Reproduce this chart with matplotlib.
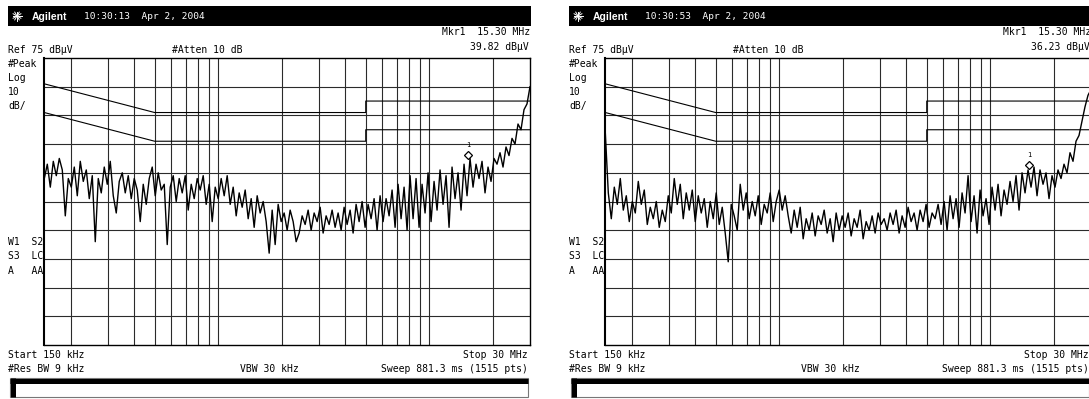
import numpy as np
import matplotlib.pyplot as plt
from matplotlib import transforms
from matplotlib.patches import Rectangle

W, H = 1089, 399

# sweep / display settings
START_HZ = 150e3
STOP_HZ = 30e6
REF_LEVEL = 75
DB_PER_DIV = 10

GRID_FREQS = [200e3, 300e3, 400e3, 500e3, 600e3, 700e3, 800e3, 900e3, 1e6,
              2e6, 3e6, 4e6, 5e6, 6e6, 7e6, 8e6, 9e6, 10e6, 20e6]

# limit lines (dBuV)
LIMIT_FREQS = [150e3, 500e3, 5e6, 5e6, 30e6]
QP_LIMIT = [66, 56, 56, 60, 60]
AV_LIMIT = [56, 46, 46, 50, 50]

TIMES = ["10:30:13", "10:30:53"]
MKR_FREQ = 15.30e6
MKR_LEVEL = [39.82, 36.23]
MKR_TEXT = ["39.82 dBµV", "36.23 dBµV"]

# traces (dBuV, log-spaced sweep points)
trace_a = [33, 38, 30, 39, 34, 40,
           36, 20, 33,
           30, 37, 27, 39,
           32, 36, 26, 34,
           11,
           33, 28, 37, 31, 39,
           27, 21, 32,
           35, 28, 34, 26, 33,
           29, 18, 31, 24, 33,
           37, 27, 35, 29, 31,
           10,
           30, 34, 25, 33, 28, 34, 22, 31, 26, 33,
           29, 34, 24, 31, 18, 30, 26, 33, 27, 34,
           24, 30, 20, 28, 23, 29,
           19, 26, 16, 27, 21, 25, 18, 7,
           22, 10, 24, 18, 21,
           15, 22, 18, 11, 14, 20,
           17, 22, 15, 21, 18, 23, 14, 20, 17, 22, 16,
           21, 15, 23, 17, 22, 14, 24,
           18, 25, 16, 24, 19, 26, 15,
           27, 18, 26, 20, 29,
           16, 31, 19, 30, 15,
           34, 19, 33, 16, 31, 21, 35, 18, 32, 22,
           36, 24, 34, 16, 37, 26, 35,
           22, 38, 27,
           40, 30, 38, 33, 39, 28, 37, 32, 40,
           38, 42, 37, 44, 41, 47, 45, 52, 50, 57, 59, 65]

trace_b = [49, 28,
           19, 30, 24, 33,
           22, 27, 18, 25, 21,
           32, 24, 29,
           17, 23, 19, 25, 16, 22, 18,
           27, 21, 33, 24, 31, 19, 28,
           22, 29, 18, 27, 21,
           26, 16, 25, 19, 28,
           17, 23, 14, 4, 24, 20, 15,
           31, 22, 28, 19, 25,
           20, 27, 17, 24, 21, 28, 18, 25,
           29, 22, 27,
           20, 14, 22, 16, 23, 12, 19, 15, 21, 13, 20, 17, 22, 14, 19, 11, 21, 15, 20, 16,
           21, 13, 19, 16, 22, 12, 18, 15, 20, 14, 21, 17, 19,
           15, 21, 17, 22, 14, 20, 16, 23, 18, 21,
           15, 22, 18, 24, 16, 21, 19,
           24, 17, 25, 15, 27, 19, 26,
           16, 28, 21, 34, 18,
           27, 14, 29, 20, 26, 17,
           30, 22, 31, 20, 29, 24, 32,
           25, 34, 22, 35, 28, 36,
           30, 37, 27, 36, 31, 35, 26, 34,
           30, 36, 33,
           38, 35, 42, 39, 46,
           48, 53, 58, 62, 64]

TRACES = [trace_a, trace_b]
PANEL_DX = [0, 561]

MONO = "DejaVu Sans Mono"

fig = plt.figure(figsize=(W / 100, H / 100), dpi=100)
fig.patch.set_facecolor("white")

# overlay in pixel coordinates for the instrument annotations
ov = fig.add_axes([0, 0, 1, 1])
ov.set_xlim(0, W)
ov.set_ylim(H, 0)
ov.axis("off")


def px_axes(x0, y0, x1, y1):
    return fig.add_axes([x0 / W, 1 - y1 / H, (x1 - x0) / W, (y1 - y0) / H])


def label(x, y, s, ha="left", size=7, **kw):
    ov.text(x, y, s, ha=ha, va="center", fontsize=size, family=MONO, **kw)


for k, dx in enumerate(PANEL_DX):
    # header bar
    ov.add_patch(Rectangle((8 + dx, 6), 523, 20, facecolor="black", edgecolor="none"))
    cx, cy = 17 + dx, 16
    for a in np.arange(0, np.pi, np.pi / 6):
        ov.plot([cx - 4.5 * np.cos(a), cx + 4.5 * np.cos(a)],
                [cy - 4.5 * np.sin(a), cy + 4.5 * np.sin(a)], color="white", lw=0.7)
    ov.text(32 + dx, 16.5, "Agilent", color="white", fontsize=7.5, fontweight="bold",
            family="Liberation Sans", va="center")
    label(84 + dx, 16.5, f"{TIMES[k]}  Apr 2, 2004", color="white", size=6.8)

    label(530 + dx, 32, "Mkr1  15.30 MHz", ha="right")
    label(529 + dx, 47, MKR_TEXT[k], ha="right")
    label(8 + dx, 50, "Ref 75 dBµV")
    label(172 + dx, 50, "#Atten 10 dB")
    label(8 + dx, 64, "#Peak")
    label(8 + dx, 78, "Log")
    label(8 + dx, 92, "10")
    label(8 + dx, 106, "dB/")
    label(8 + dx, 242, "W1  S2")
    label(8 + dx, 256, "S3  LC")
    label(8 + dx, 271, "A   AA")
    label(8 + dx, 355, "Start 150 kHz")
    label(8 + dx, 369, "#Res BW 9 kHz")
    label(240 + dx, 369, "VBW 30 kHz")
    label(528 + dx, 355, "Stop 30 MHz", ha="right")
    label(528 + dx, 369, "Sweep 881.3 ms (1515 pts)", ha="right")

    # status box
    ov.add_patch(Rectangle((10 + dx, 378), 518, 19, facecolor="white",
                           edgecolor="#777777", lw=0.8))
    ov.plot([10 + dx, 528 + dx], [380.5, 380.5], color="black", lw=3.6, solid_capstyle="butt")
    ov.plot([12.5 + dx, 12.5 + dx], [378, 397], color="black", lw=3.6, solid_capstyle="butt")

    # graticule
    ax = px_axes(44.3 + dx, 58, 530 + dx, 345)
    ax.set_xscale("log")
    ax.set_xlim(START_HZ, STOP_HZ)
    ax.set_ylim(REF_LEVEL - 10 * DB_PER_DIV, REF_LEVEL)
    ax.tick_params(which="both", length=0, labelbottom=False, labelleft=False)
    for f in GRID_FREQS:
        ax.axvline(f, color="#2b2b2b", lw=0.8)
    for lvl in range(REF_LEVEL - DB_PER_DIV, REF_LEVEL - 10 * DB_PER_DIV, -DB_PER_DIV):
        ax.axhline(lvl, color="#2b2b2b", lw=0.8)
    for side, sp in ax.spines.items():
        sp.set_color("black")
        sp.set_linewidth(1.5 if side == "left" else 1.0)

    ax.plot(LIMIT_FREQS, QP_LIMIT, color="black", lw=0.8)
    ax.plot(LIMIT_FREQS, AV_LIMIT, color="black", lw=0.8)

    trace = TRACES[k]
    freq = np.geomspace(START_HZ, STOP_HZ, len(trace))
    ax.plot(freq, trace, color="black", lw=1.0)

    up = transforms.offset_copy(ax.transData, fig=fig, x=0, y=4, units="dots")
    ax.plot([MKR_FREQ], [MKR_LEVEL[k]], marker="D", ms=4.5, mfc="white", mec="black",
            mew=0.9, transform=up, clip_on=False)
    up2 = transforms.offset_copy(ax.transData, fig=fig, x=0, y=14, units="dots")
    ax.text(MKR_FREQ, MKR_LEVEL[k], "1", transform=up2, fontsize=5, family=MONO,
            ha="center", va="center")

fig.savefig("out.png", dpi=100)
